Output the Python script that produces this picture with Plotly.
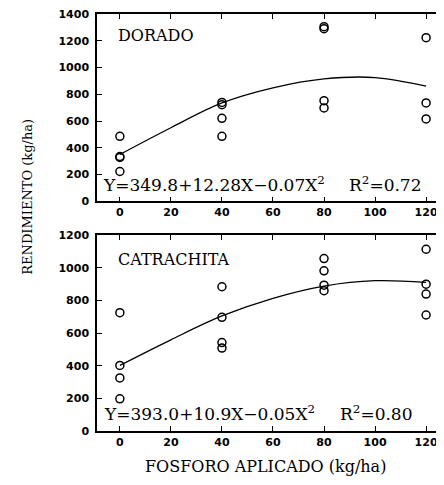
import plotly.graph_objects as go
from plotly.subplots import make_subplots

# ---- data ----
dorado_x = [0, 0, 0, 0, 40, 40, 40, 40, 80, 80, 80, 80, 120, 120, 120]
dorado_y = [486, 335, 328, 223, 739, 722, 620, 486, 1305, 1290, 752, 698, 1223, 735, 616]
dorado_fit_x = [0, 20, 40, 60, 80, 100, 120]
dorado_fit_y = [350, 550, 735, 848, 915, 925, 861]

catra_x = [0, 0, 0, 0, 40, 40, 40, 40, 80, 80, 80, 80, 120, 120, 120, 120]
catra_y = [725, 402, 325, 197, 884, 697, 542, 508, 1057, 982, 894, 860, 1114, 900, 839, 711]
catra_fit_x = [0, 20, 40, 60, 80, 100, 120]
catra_fit_y = [402, 559, 705, 813, 888, 921, 911]

x_ticks = [0, 20, 40, 60, 80, 100, 120]
y_ticks_top = [0, 200, 400, 600, 800, 1000, 1200, 1400]
y_ticks_bot = [0, 200, 400, 600, 800, 1000, 1200]

eq_top = "Y=349.8+12.28X\u22120.07X<sup>2</sup>"
r2_top = "R<sup>2</sup>=0.72"
eq_bot = "Y=393.0+10.9X\u22120.05X<sup>2</sup>"
r2_bot = "R<sup>2</sup>=0.80"
name_top = "DORADO"
name_bot = "CATRACHITA"
y_title = "RENDIMIENTO (kg/ha)"
x_title = "FOSFORO APLICADO (kg/ha)"

# page body has an 8px default margin
OFF = 8
W, H = 444 - OFF, 485 - OFF
ML, MR, MT, MB = 97 - OFF, 0, 13 - OFF, 53.5
PW = W - ML - MR
PH = H - MT - MB

def px(xp):
    return (xp - OFF - ML) / PW

def py(yp):
    return (H - MB - (yp - OFF)) / PH

fig = make_subplots(rows=2, cols=1)

serif = "DejaVu Serif"
marker = dict(symbol="circle-open", size=8, color="black", line=dict(width=1.5, color="black"))

fig.add_trace(go.Scatter(x=dorado_x, y=dorado_y, mode="markers", marker=marker, showlegend=False), row=1, col=1)
fig.add_trace(go.Scatter(x=dorado_fit_x, y=dorado_fit_y, mode="lines", line=dict(color="black", width=1.3, shape="spline"), showlegend=False), row=1, col=1)
fig.add_trace(go.Scatter(x=catra_x, y=catra_y, mode="markers", marker=marker, showlegend=False), row=2, col=1)
fig.add_trace(go.Scatter(x=catra_fit_x, y=catra_fit_y, mode="lines", line=dict(color="black", width=1.3, shape="spline"), showlegend=False), row=2, col=1)

axis_common = dict(showline=True, linecolor="black", linewidth=1.5, mirror="ticks",
                   ticks="inside", ticklen=5, tickwidth=1.3, tickcolor="black",
                   showgrid=False, zeroline=False, ticklabeloverflow="allow",
                   tickfont=dict(family="DejaVu Sans", size=11, color="black", weight="bold"))

ppu = 2.5667  # pixels per x unit
x0 = -(120 - 97) / ppu
x1 = (444 - 120) / ppu

fig.update_xaxes(range=[x0, x1], tickvals=x_ticks, **axis_common)
fig.update_yaxes(**axis_common, ticklabelstandoff=4)

fig.update_layout(
    xaxis=dict(domain=[0, 1]),
    xaxis2=dict(domain=[0, 1]),
    yaxis=dict(domain=[py(201), py(13)], range=[0, 1400], tickvals=y_ticks_top),
    yaxis2=dict(domain=[py(431.5), py(235)], range=[0, 1200], tickvals=y_ticks_bot),
)

annos = [
    dict(text=name_top, x=px(116), y=py(35), xanchor="left", yanchor="middle", font=dict(family=serif, size=16, color="black")),
    dict(text=name_bot, x=px(116), y=py(259), xanchor="left", yanchor="middle", font=dict(family=serif, size=16, color="black")),
    dict(text=eq_top, x=px(101), y=py(184), xanchor="left", yanchor="middle", font=dict(family=serif, size=17, color="black")),
    dict(text=r2_top, x=px(348), y=py(184), xanchor="left", yanchor="middle", font=dict(family=serif, size=17, color="black")),
    dict(text=eq_bot, x=px(102), y=py(413), xanchor="left", yanchor="middle", font=dict(family=serif, size=17, color="black")),
    dict(text=r2_bot, x=px(339), y=py(413), xanchor="left", yanchor="middle", font=dict(family=serif, size=17, color="black")),
    dict(text=y_title, x=px(27), y=py(196), textangle=-90, xanchor="center", yanchor="middle", font=dict(family=serif, size=13, color="black")),
    dict(text=x_title, x=px(266), y=py(467), xanchor="center", yanchor="middle", font=dict(family=serif, size=16, color="black")),
]
for a in annos:
    a.update(xref="paper", yref="paper", showarrow=False)
fig.update_layout(annotations=annos)

fig.update_layout(width=W, height=H, margin=dict(l=ML, r=MR, t=MT, b=MB),
                  paper_bgcolor="white", plot_bgcolor="white", showlegend=False)

fig.write_html("out.html")
